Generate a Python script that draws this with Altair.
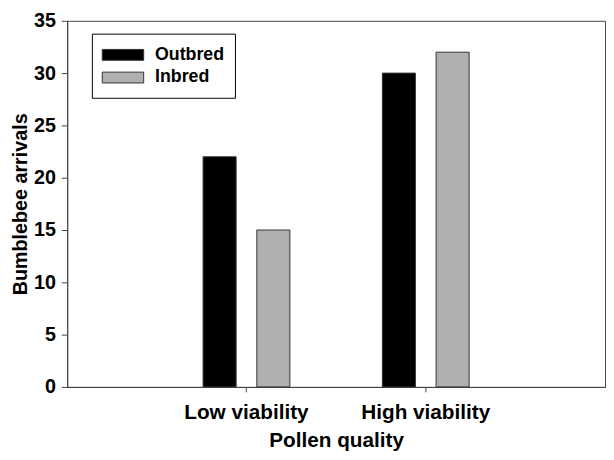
import altair as alt
import pandas as pd

categories = ["Low viability", "High viability"]
groups = ["Outbred", "Inbred"]
outbred = [22, 30]
inbred = [15, 32]
y_ticks = [0, 5, 10, 15, 20, 25, 30, 35]
colors = ["#000000", "#b0b0b0"]

rows = []
for i, c in enumerate(categories):
    rows.append({"quality": c, "group": "Outbred", "arrivals": outbred[i]})
    rows.append({"quality": c, "group": "Inbred", "arrivals": inbred[i]})
df = pd.DataFrame(rows)

FONT = "Liberation Sans"

chart = alt.Chart(df).mark_bar(stroke="#333333", strokeWidth=1).encode(
    x=alt.X(
        "quality:N",
        sort=categories,
        scale=alt.Scale(domain=categories, paddingInner=0.516, paddingOuter=0.758),
        axis=alt.Axis(
            title="Pollen quality",
            labelAngle=0,
            tickSize=5,
            labelPadding=10,
            titlePadding=7,
            labelFontSize=21,
            titleFontSize=21,
        ),
    ),
    xOffset=alt.XOffset(
        "group:N",
        sort=groups,
        scale=alt.Scale(domain=groups, paddingInner=0.385, paddingOuter=0),
    ),
    y=alt.Y(
        "arrivals:Q",
        scale=alt.Scale(domain=[0, 35], nice=False),
        axis=alt.Axis(
            title="Bumblebee arrivals",
            values=y_ticks,
            grid=False,
            tickSize=6,
            labelPadding=6,
            titlePadding=3,
        ),
    ),
    color=alt.Color(
        "group:N",
        sort=groups,
        scale=alt.Scale(domain=groups, range=colors),
        legend=alt.Legend(
            title=None,
            orient="none",
            legendX=25,
            legendY=13,
            symbolType="M-2.1,-0.55H2.1V0.55H-2.1Z",
            symbolSize=400,
            symbolOffset=10,
            symbolStrokeColor="#333333",
            symbolStrokeWidth=1,
            symbolOpacity=1,
            labelFont=FONT,
            labelFontSize=18,
            labelFontWeight="bold",
            labelColor="#000000",
            labelOffset=22,
            rowPadding=3,
            padding=11,
            strokeColor="#000000",
            fillColor="#ffffff",
        ),
    ),
).properties(
    width=545,
    height=371,
    autosize=alt.AutoSizeParams(type="none"),
    padding={"left": 60, "top": 10, "right": 1, "bottom": 65},
).configure_view(
    stroke="#444444", strokeWidth=1
).configure_axis(
    labelFont=FONT,
    titleFont=FONT,
    labelFontSize=20,
    titleFontSize=20,
    labelFontWeight="bold",
    titleFontWeight="bold",
    labelColor="#000000",
    titleColor="#000000",
    domainColor="#444444",
    tickColor="#444444",
)

chart.save("out.html", embed_options={"renderer": "svg", "actions": False})
